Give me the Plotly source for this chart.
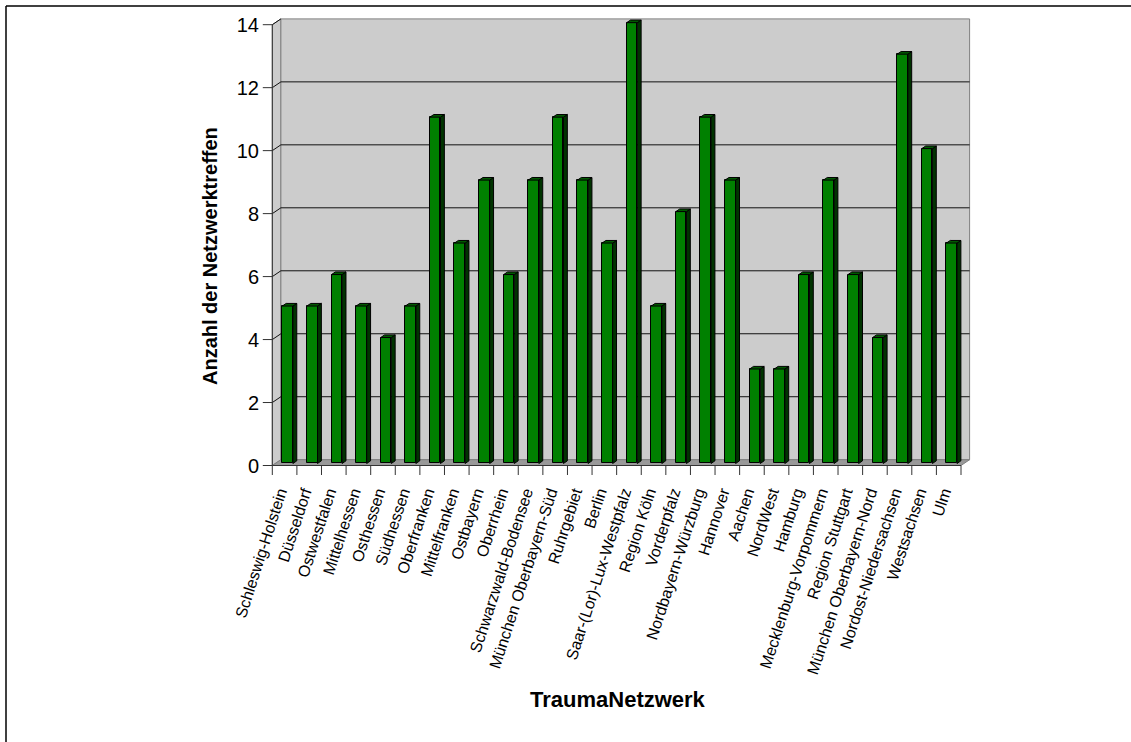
import plotly.graph_objects as go

# Netzwerktreffen je TraumaNetzwerk
netzwerke = [
    "Schleswig-Holstein", "Düsseldorf", "Ostwestfalen", "Mittelhessen", "Osthessen",
    "Südhessen", "Oberfranken", "Mittelfranken", "Ostbayern", "Oberrhein",
    "Schwarzwald-Bodensee", "München Oberbayern-Süd", "Ruhrgebiet", "Berlin",
    "Saar-(Lor)-Lux-Westpfalz", "Region Köln", "Vorderpfalz", "Nordbayern-Würzburg",
    "Hannover", "Aachen", "NordWest", "Hamburg", "Mecklenburg-Vorpommern",
    "Region Stuttgart", "München Oberbayern-Nord", "Nordost-Niedersachsen",
    "Westsachsen", "Ulm",
]
treffen = [5, 5, 6, 5, 4, 5, 11, 7, 9, 6, 9, 11, 9, 7, 14, 5, 8, 11, 9, 3, 3, 6, 9, 6, 4, 13, 10, 7]
y_ticks = [0, 2, 4, 6, 8, 10, 12, 14]

W, H = 1131, 742
ML, MR, MT, MB = 262, 159, 17, 265
PW, PH = W - ML - MR, H - MT - MB

# pixel scale of one category / one unit on the value axis
U = (961.0 - 272.3) / len(netzwerke)
V = (465.5 - 24.7) / 14
X0 = -0.5 - (272.3 - ML) / U
X1 = X0 + PW / U
Y0 = -((MT + PH) - 465.5) / V
Y1 = Y0 + PH / V

# 3D depth offset of the chart box
DX, DY = 8.6 / U, 5.8 / V
F1, F2 = 0.35, 0.80      # bar front / back position within the depth
BW = 10.6 / U            # bar width
LABEL_SHIFT = 5.0 / U    # category labels sit a little left of the column centre
n = len(netzwerke)
xl, xr = -0.5, n - 0.5
ymax = 14

FONT = "Liberation Sans, Arial, sans-serif"
WALL = "#CCCCCC"
FLOOR = "#999999"
EDGE = "#808080"
AXIS = "#333333"


def poly(points):
    return "M " + " L ".join(f"{x},{y}" for x, y in points) + " Z"


shapes = []
# side wall, back wall, floor
shapes.append(dict(type="path", layer="below", line=dict(color=EDGE, width=1), fillcolor=WALL,
                   path=poly([(xl, 0), (xl + DX, DY), (xl + DX, ymax + DY), (xl, ymax)])))
shapes.append(dict(type="path", layer="below", line=dict(color=EDGE, width=1), fillcolor=WALL,
                   path=poly([(xl + DX, DY), (xr + DX, DY), (xr + DX, ymax + DY), (xl + DX, ymax + DY)])))
shapes.append(dict(type="path", layer="below", line=dict(color=EDGE, width=1), fillcolor=FLOOR,
                   path=poly([(xl, 0), (xr, 0), (xr + DX, DY), (xl + DX, DY)])))
# gridlines on side and back wall
for g in y_ticks[1:]:
    if g < ymax:
        path = f"M {xl},{g} L {xl + DX},{g + DY} L {xr + DX},{g + DY}"
    else:
        path = f"M {xl},{g} L {xl + DX},{g + DY}"
    shapes.append(dict(type="path", layer="below", path=path, line=dict(color="#111111", width=1)))
# front axis lines
shapes.append(dict(type="line", layer="above", x0=xl, x1=xl, y0=0, y1=ymax,
                   line=dict(color=AXIS, width=1)))
shapes.append(dict(type="line", layer="above", x0=xl, x1=xr, y0=0, y1=0,
                   line=dict(color=AXIS, width=1)))
# tick marks
for g in y_ticks:
    shapes.append(dict(type="line", layer="above", x0=xl - 9.5 / U, x1=xl, y0=g, y1=g,
                       line=dict(color=AXIS, width=1)))
for k in range(n + 1):
    b = k - 0.5
    shapes.append(dict(type="line", layer="above", x0=b, x1=b, y0=0, y1=-9.5 / V,
                       line=dict(color=AXIS, width=1)))


def px_x(p):
    return (p - ML) / PW


def px_y(p):
    return (MT + PH - p) / PH


# outer chart frame
shapes.append(dict(type="line", xref="paper", yref="paper", x0=px_x(6), x1=px_x(6),
                   y0=px_y(6), y1=px_y(H + 5), line=dict(color="black", width=1.5)))
shapes.append(dict(type="line", xref="paper", yref="paper", x0=px_x(6), x1=px_x(W + 5),
                   y0=px_y(6), y1=px_y(6), line=dict(color="black", width=1.5)))

# side and top faces of the columns
side_x, side_y, top_x, top_y = [], [], [], []
for i, v in enumerate(treffen):
    l = i - BW / 2 + F1 * DX
    r = i + BW / 2 + F1 * DX
    side_x += [r, r + (F2 - F1) * DX, r + (F2 - F1) * DX, r, r, None]
    side_y += [F1 * DY, F2 * DY, v + F2 * DY, v + F1 * DY, F1 * DY, None]
    top_x += [l, r, r + (F2 - F1) * DX, l + (F2 - F1) * DX, l, None]
    top_y += [v + F1 * DY, v + F1 * DY, v + F2 * DY, v + F2 * DY, v + F1 * DY, None]

fig = go.Figure()
fig.add_trace(go.Bar(
    x=[i + F1 * DX for i in range(n)], y=treffen, base=F1 * DY, width=BW,
    marker=dict(color="#008000", line=dict(color="black", width=1)),
    hoverinfo="skip", showlegend=False,
))
fig.add_trace(go.Scatter(x=side_x, y=side_y, mode="lines", fill="toself",
                         fillcolor="#003300", line=dict(color="black", width=1),
                         hoverinfo="skip", showlegend=False))
fig.add_trace(go.Scatter(x=top_x, y=top_y, mode="lines", fill="toself",
                         fillcolor="#005800", line=dict(color="black", width=1),
                         hoverinfo="skip", showlegend=False))

fig.update_layout(
    width=W, height=H,
    margin=dict(l=ML, r=MR, t=MT, b=MB, pad=0),
    paper_bgcolor="white", plot_bgcolor="white",
    font=dict(family=FONT, color="black"),
    shapes=shapes,
    bargap=0,
    xaxis=dict(range=[X0, X1], tickmode="array",
               tickvals=[i - LABEL_SHIFT for i in range(n)], ticktext=netzwerke,
               tickangle=-72, ticks="", showgrid=False, zeroline=False, showline=False,
               tickfont=dict(size=16, family=FONT), automargin=False, ticklabelstandoff=2),
    yaxis=dict(range=[Y0, Y1], tickmode="array", tickvals=y_ticks, ticks="",
               showgrid=False, zeroline=False, showline=False,
               tickfont=dict(size=20, family=FONT), automargin=False, ticklabelstandoff=2),
    annotations=[
        dict(text="<b>Anzahl der Netzwerktreffen</b>", xref="paper", yref="paper",
             x=px_x(210), y=px_y(256), textangle=-90, showarrow=False,
             font=dict(size=20, family=FONT), xanchor="center", yanchor="middle"),
        dict(text="<b>TraumaNetzwerk</b>", xref="paper", yref="paper",
             x=px_x(618), y=px_y(699), showarrow=False,
             font=dict(size=22, family=FONT), xanchor="center", yanchor="middle"),
    ],
)

fig.write_html("out.html")
